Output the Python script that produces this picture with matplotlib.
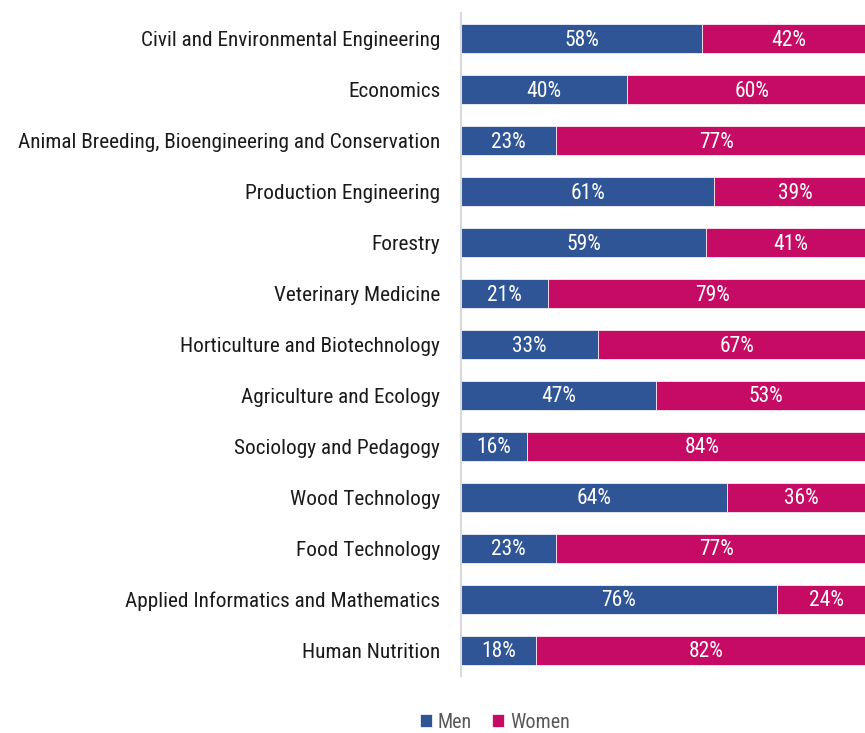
import matplotlib
matplotlib.use("Agg")
import matplotlib.pyplot as plt

plt.rcParams['font.family'] = ['Roboto Condensed', 'DejaVu Sans']

categories = [
    "Civil and Environmental Engineering",
    "Economics",
    "Animal Breeding, Bioengineering and Conservation",
    "Production Engineering",
    "Forestry",
    "Veterinary Medicine",
    "Horticulture and Biotechnology",
    "Agriculture and Ecology",
    "Sociology and Pedagogy",
    "Wood Technology",
    "Food Technology",
    "Applied Informatics and Mathematics",
    "Human Nutrition",
]
men = [58, 40, 23, 61, 59, 21, 33, 47, 16, 64, 23, 76, 18]
women = [42, 60, 77, 39, 41, 79, 67, 53, 84, 36, 77, 24, 82]

c_men = "#2F5597"
c_women = "#C50B63"

fig = plt.figure(figsize=(8.65, 7.33), dpi=100)
ax = fig.add_axes([461/865, 1-675.5/733, 1-461/865, (675.5-13.5)/733])

y = list(range(len(categories)))
h = 0.57
b1 = ax.barh(y, men, height=h, color=c_men, label="Men", edgecolor='white', linewidth=0.5)
b2 = ax.barh(y, women, left=men, height=h, color=c_women, label="Women", edgecolor='white', linewidth=0.5)

for i in y:
    ax.text(men[i]/2, i + 0.03, f"{men[i]}%", ha='center', va='center', color='white', fontsize=15.5)
    ax.text(men[i] + women[i]/2, i + 0.03, f"{women[i]}%", ha='center', va='center', color='white', fontsize=15.5)

ax.set_xlim(0, 97.3)
ax.set_ylim(len(categories)-0.5, -0.5)
ax.set_yticks(y)
ax.set_yticklabels(categories, fontsize=15.3, color='#1A1A1A')
ax.tick_params(axis='y', length=0, pad=15)
ax.set_xticks([])
for s in ['top', 'right', 'bottom']:
    ax.spines[s].set_visible(False)
ax.spines['left'].set_color('#D9D9D9')
ax.spines['left'].set_linewidth(1.5)

leg = fig.legend(handles=[b1, b2], labels=["Men", "Women"], loc='center', bbox_to_anchor=(495/865, 1-722/733),
                 ncol=2, frameon=False, fontsize=14.5, handlelength=0.6, handleheight=0.6,
                 handletextpad=0.3, columnspacing=1.0, borderpad=0.1)
for t in leg.get_texts():
    t.set_color('#595959')

fig.savefig("out.png", dpi=100)
